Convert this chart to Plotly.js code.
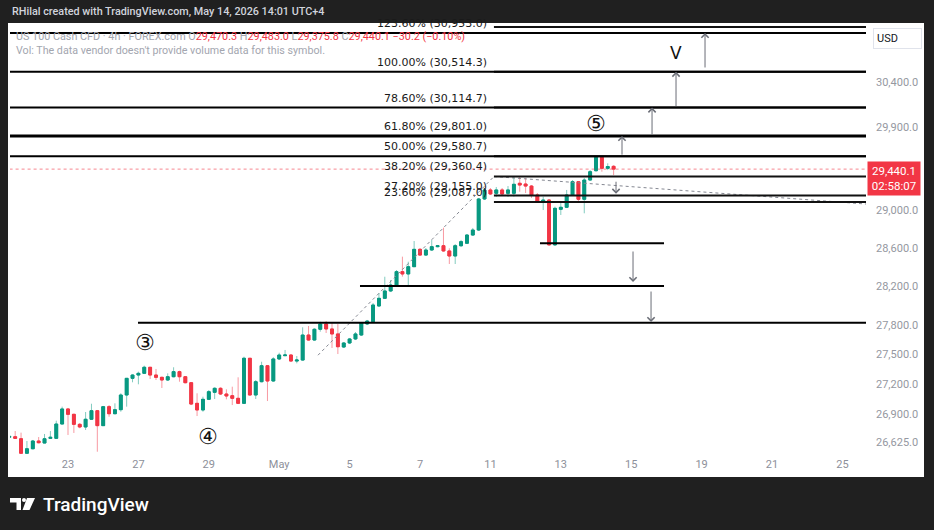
<!DOCTYPE html>
<html><head><meta charset="utf-8">
<script src="https://cdn.plot.ly/plotly-3.0.1.min.js"></script>
<style>html,body{margin:0;padding:0;background:#202020;}#chart{width:934px;height:530px;}</style>
</head><body><div id="chart"></div>
<script>
// ---- OHLC data (US 100 Cash CFD, 4h) ----
const opens = [26672,26677,26657,26515,26559,26635,26615,26661,26661,26802,
26951,26898,26799,26773,26849,26934,26786,26974,26904,26944,
27090,27257,27290,27307,27368,27290,27267,27240,27273,27324,
27273,27213,27007,26941,27047,27117,27157,27100,27083,27057,
27007,27459,27090,27223,27384,27230,27452,27485,27492,27431,
27441,27695,27644,27754,27808,27757,27706,27573,27614,27655,
27695,27808,27831,27993,28072,28148,28200,28349,28325,28401,
28583,28523,28576,28611,28621,28566,28513,28621,28647,28734,
28787,29118,29215,29179,29215,29179,29179,29287,29279,29257,
29161,29089,29107,28630,29008,29029,29161,29304,29115,29322,
29423,29568,29449,29470.3];
const highs = [26695,26733,26717,26635,26645,26674,26704,26733,26835,26974,
26961,26904,26812,26921,27003,26941,26981,26990,27007,27107,
27260,27297,27324,27384,27371,27351,27273,27307,27368,27334,
27280,27220,27107,27073,27140,27167,27167,27147,27173,27267,
27475,27462,27240,27424,27391,27469,27515,27543,27499,27482,
27774,27787,27764,27831,27838,27828,27808,27624,27665,27726,
27828,27849,28024,28127,28296,28262,28366,28506,28453,28671,
28597,28597,28682,28629,28812,28594,28639,28682,28745,28809,
29129,29236,29236,29247,29236,29257,29358,29355,29344,29268,
29182,29143,29118,29036,29089,29215,29322,29311,29344,29431,
29575,29575,29503,29483.0];
const lows = [26662,26655,26508,26508,26554,26612,26612,26655,26660,26799,
26694,26714,26760,26743,26842,26530,26783,26874,26898,26924,
26974,27217,27197,27300,27250,27240,27160,27230,27267,27223,
27207,26990,26881,26924,27040,27050,27090,27047,26990,27000,
27000,27085,27050,27217,27030,27223,27441,27482,27424,27408,
27434,27637,27637,27729,27716,27563,27502,27563,27604,27644,
27685,27797,27818,27983,28065,28137,28189,28297,28210,28398,
28513,28513,28566,28604,28558,28429,28429,28607,28639,28724,
28777,29107,29161,29140,29161,29140,29143,29196,29182,29129,
29075,29000,28620,28620,28947,29021,29150,29075,28965,29315,
29412,29412,29430,29375.8];
const closes = [26680,26661,26515,26559,26635,26618,26657,26671,26802,26951,
26898,26799,26773,26849,26934,26786,26974,26904,26944,27090,
27257,27290,27307,27368,27290,27267,27240,27273,27324,27273,
27213,27000,26941,27047,27123,27157,27100,27080,27057,27007,
27459,27090,27223,27384,27230,27452,27492,27492,27431,27441,
27695,27644,27754,27808,27757,27706,27576,27614,27655,27706,
27818,27838,28003,28072,28148,28210,28349,28325,28401,28583,
28523,28576,28611,28621,28566,28513,28621,28664,28734,28787,
29118,29215,29172,29215,29172,29215,29276,29268,29257,29161,
29089,29107,28630,29018,29029,29161,29304,29115,29322,29412,
29568,29449,29468,29440.1];

// time axis: 4h slots, 6 per trading day, first trading day = Apr 21, first bar = its 3rd slot
const barsPerDay = 6;
const firstBarSlot = 2;
const tickDayIndex = [2,4,6,8,10,12,14,16,18,20,22,24];
const tickDayLabels = ['23','27','29','May','5','7','11','13','15','19','21','25'];

// price axis ticks
const priceTicks = [30400,29900,29000,28600,28200,27800,27500,27200,26900,26625];

// Fibonacci levels (anchored drawing)
const fibPct   = ['127.20%','123.60%','100.00%','78.60%','61.80%','50.00%','38.20%','27.20%','23.60%'];
const fibPrice = [31022.0,30953.0,30514.3,30114.7,29801.0,29580.7,29360.4,29155.0,29087.0];
const fibStartSlot = 84.6;

// user horizontal lines: price, from slot, to slot
const hPrice = [30953.0,30514.3,30114.7,29801.0,29580.7,28647.1,28200,27820];
const hFrom  = [0,0,0,0,0,92.45,61.77,23.93];
const hTo    = [160,160,160,160,160,113.59,113.59,160];

// dashed trend lines: [slot0, price0, slot1, price1]
const trendA = [54.61,27490,84.61,29360];
const trendB = [84.61,29360,148.02,29064];

// arrows: slot, from price, to price
const arrowSlot = [106.43,111.55,115.64,120.58,105.41,108.31,111.38];
const arrowFrom = [29580.7,29801.0,30114.7,30546,29320,28576,28158];
const arrowTo   = [29801.0,30114.7,30514.3,30953.0,29175,28241,27828];

// wave labels
const waveText  = ['③','④','⑤','V'];
const waveSlot  = [25.1,35.9,102.0,115.64];
const wavePrice = [27614,26684,29935,30727];

const lastPrice = 29440.1;

// ---------------------------------------
const xs = opens.map((_, i) => i + firstBarSlot);
const GREEN = '#089981', RED = '#f23645';

const traces = [];
// wicks
traces.push({type:'candlestick', x:xs, open:opens, high:highs, low:lows, close:closes,
  increasing:{line:{color:'rgba(8,153,129,0.5)',width:1},fillcolor:GREEN},
  decreasing:{line:{color:'rgba(242,54,69,0.5)',width:1},fillcolor:RED},
  whiskerwidth:0, hoverinfo:'skip'});
// bodies
traces.push({type:'candlestick', x:xs, open:opens, close:closes,
  high:opens.map((o,i)=>Math.max(o,closes[i])), low:opens.map((o,i)=>Math.min(o,closes[i])),
  increasing:{line:{color:GREEN,width:1},fillcolor:GREEN},
  decreasing:{line:{color:RED,width:1},fillcolor:RED},
  whiskerwidth:0, hoverinfo:'skip'});

// price line
traces.push({type:'scatter', mode:'lines', x:[0,160], y:[lastPrice,lastPrice],
  line:{color:'rgba(242,54,69,0.6)', width:1, dash:'dot'}, hoverinfo:'skip'});

// dashed trends
[trendA, trendB].forEach(t => traces.push({type:'scatter', mode:'lines', x:[t[0],t[2]], y:[t[1],t[3]],
  line:{color:'#858892', width:1, dash:'3px,3px'}, hoverinfo:'skip'}));

// fib lines
fibPrice.forEach(p => traces.push({type:'scatter', mode:'lines', x:[fibStartSlot,160], y:[p,p],
  line:{color:'#111', width: 2}, hoverinfo:'skip'}));
// user lines
hPrice.forEach((p,i) => traces.push({type:'scatter', mode:'lines', x:[hFrom[i],hTo[i]], y:[p,p],
  line:{color:'#000', width: (p===29801.0 ? 3 : 2)}, hoverinfo:'skip'}));

const fmt = v => v.toLocaleString('en-US',{minimumFractionDigits:1, maximumFractionDigits:1});
const PX = px => (px-10)/856, PY = py => (456-py)/432;

const annotations = [];
// fib labels (skip the one hidden above the chart)
fibPct.forEach((t,i) => {
  if (i === 0) return;
  annotations.push({xref:'x', yref:'y', x:fibStartSlot, y:Math.log10(fibPrice[i]), xanchor:'right', yanchor:'bottom',
    xshift:-5, yshift:1, showarrow:false, text:t+' ('+fmt(fibPrice[i])+')',
    font:{family:'DejaVu Sans', size:11, color:'#1a1a1a'}});
});
// arrows
arrowSlot.forEach((s,i) => annotations.push({xref:'x', yref:'y', axref:'x', ayref:'y',
  x:s, y:Math.log10(arrowTo[i]), ax:s, ay:Math.log10(arrowFrom[i]), text:'', showarrow:true,
  arrowhead:4, arrowsize:1.4, arrowwidth:1, arrowcolor:'#6a6d76', standoff:0, startstandoff:0}));
// wave labels
waveText.forEach((t,i) => annotations.push({xref:'x', yref:'y', x:waveSlot[i], y:Math.log10(wavePrice[i]),
  showarrow:false, text:t, font:{family: (t==='V' ? 'DejaVu Sans' : 'DejaVu Sans, Noto Sans CJK SC'), size: (t==='V'?17:22), color:'#111'}}));

// price tag
annotations.push({xref:'paper', yref:'y', x:PX(867), y:Math.log10(lastPrice), xanchor:'left', yanchor:'top', yshift:8,
  showarrow:false, text:'29,440.1<br>02:58:07', bgcolor:RED, borderpad:2, width:48, align:'center',
  font:{family:'Roboto', size:11.5, color:'#fff'}});
// USD box
annotations.push({xref:'paper', yref:'paper', x:PX(873), y:PY(38), xanchor:'left', yanchor:'middle', showarrow:false,
  text:'USD', bgcolor:'#fff', bordercolor:'#e0e3eb', borderwidth:1, borderpad:3, width:41, align:'left',
  font:{family:'Roboto', size:11, color:'#131722'}});
// header
annotations.push({xref:'paper', yref:'paper', x:PX(10), y:PY(11), xanchor:'left', yanchor:'middle', showarrow:false,
  text:'RHilal created with TradingView.com, May 14, 2026 14:01 UTC+4', font:{family:'Roboto', size:10.8, color:'#d1d4dc', weight:500}});
// legend
const g = s => '<span style="color:#a3a6af">'+s+'</span>', r = s => '<span style="color:#f23645">'+s+'</span>';
annotations.push({xref:'paper', yref:'paper', x:PX(14), y:PY(37), xanchor:'left', yanchor:'middle', showarrow:false,
  text: g('US 100 Cash CFD · 4h · FOREX.com O')+r('29,470.3')+g(' H')+r('29,483.0')+g(' L')+r('29,375.8')+g(' C')+r('29,440.1')+r(' −30.2 (−0.10%)'),
  font:{family:'Roboto', size:10.8, color:'#a3a6af'}});
annotations.push({xref:'paper', yref:'paper', x:PX(14), y:PY(50), xanchor:'left', yanchor:'middle', showarrow:false,
  text:"Vol: The data vendor doesn't provide volume data for this symbol.", font:{family:'Roboto', size:10.7, color:'#a3a6af'}});
// footer
annotations.push({xref:'paper', yref:'paper', x:PX(41), y:PY(504), xanchor:'left', yanchor:'middle', showarrow:false,
  text:'TradingView', font:{family:'Roboto', size:19, color:'#ffffff', weight:500}});

const shapes = [
  {type:'rect', xref:'paper', yref:'paper', x0:PX(8), x1:PX(924), y0:PY(477), y1:PY(23), fillcolor:'#ffffff', line:{width:0}, layer:'below'},
  // logo
  {type:'rect', xref:'paper', yref:'paper', x0:PX(10), x1:PX(21), y0:PY(502.5), y1:PY(498), fillcolor:'#fff', line:{width:0}},
  {type:'rect', xref:'paper', yref:'paper', x0:PX(16.5), x1:PX(21), y0:PY(510), y1:PY(498), fillcolor:'#fff', line:{width:0}},
  {type:'circle', xref:'paper', yref:'paper', x0:PX(22), x1:PX(26), y0:PY(502), y1:PY(498), fillcolor:'#fff', line:{width:0}},
  {type:'path', xref:'paper', yref:'paper', path:'M'+PX(27)+','+PY(498)+' L'+PX(35)+','+PY(498)+' L'+PX(29.5)+','+PY(510)+' L'+PX(22.5)+','+PY(510)+' Z', fillcolor:'#fff', line:{width:0}}
];

const layout = {
  width:934, height:530, margin:{l:10, r:68, t:24, b:74, pad:0},
  paper_bgcolor:'#202020', plot_bgcolor:'#ffffff', showlegend:false,
  font:{family:'Roboto, sans-serif'},
  xaxis:{range:[2.114,148.02], tickmode:'array', tickvals:tickDayIndex.map(k=>k*barsPerDay), ticktext:tickDayLabels,
    showgrid:false, zeroline:false, showline:false, ticks:'', tickfont:{family:'Roboto', size:11, color:'#8d909a'},
    rangeslider:{visible:false}, fixedrange:true},
  yaxis:{type:'log', range:[4.423053,4.492151], side:'right', tickmode:'array', tickvals:priceTicks, ticktext:priceTicks.map(fmt),
    showgrid:false, zeroline:false, showline:false, ticks:'', ticklabelstandoff:9,
    tickfont:{family:'Roboto', size:11, color:'#9598a1'}, fixedrange:true},
  shapes, annotations
};
Plotly.newPlot('chart', traces, layout, {displayModeBar:false, staticPlot:true});
</script></body></html>
